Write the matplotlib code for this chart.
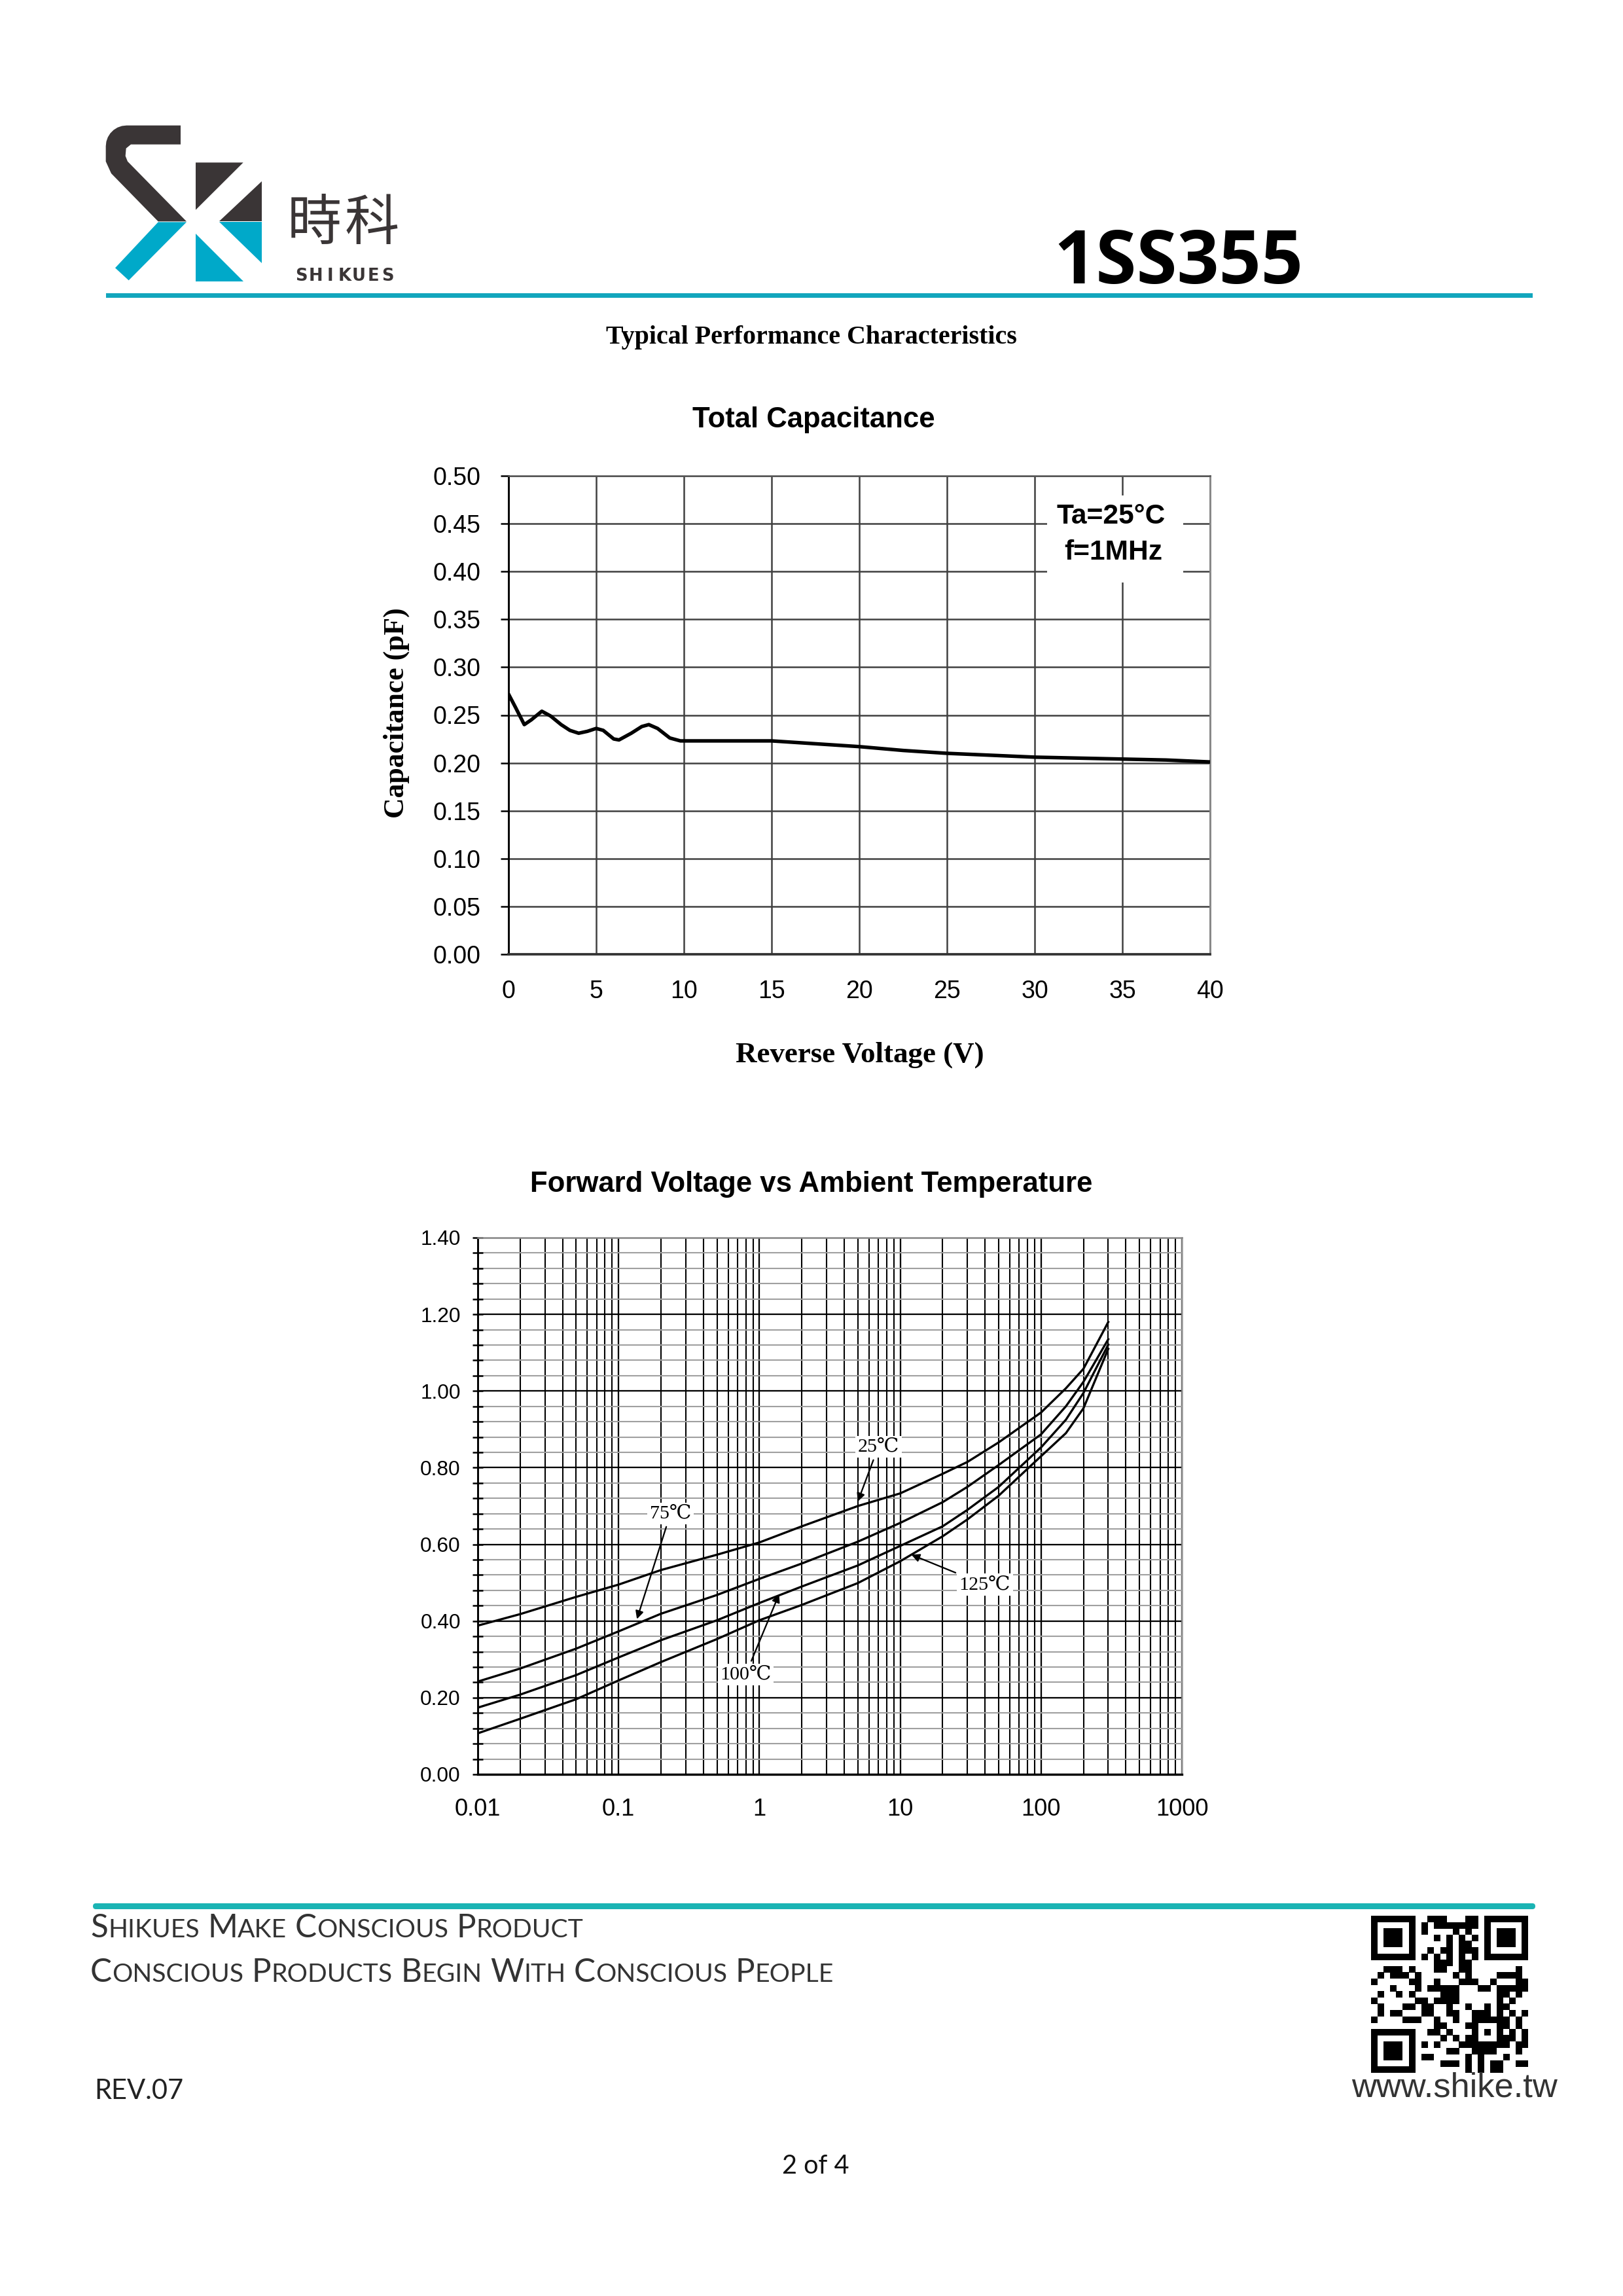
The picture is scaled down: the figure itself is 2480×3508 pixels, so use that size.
import numpy as np
import matplotlib
matplotlib.use("Agg")
import matplotlib.pyplot as plt
from matplotlib.patches import Polygon, Rectangle, FancyBboxPatch
from matplotlib.ticker import FixedLocator, FixedFormatter, LogLocator, NullFormatter

# ---------------- data ----------------
cap_v = [0, 0.4, 0.9, 1.3, 1.9, 2.4, 3.0, 3.5, 4.0, 4.5, 5.0, 5.4, 6.0, 6.3, 7.0, 7.6, 8.0,
         8.5, 9.2, 9.8, 12.5, 15, 17.5, 20, 22.5, 25, 27.5, 30, 32.5, 35, 37.5, 40]
cap_c = [0.272, 0.258, 0.240, 0.245, 0.254, 0.249, 0.240, 0.234, 0.231, 0.233, 0.236, 0.234,
         0.225, 0.224, 0.231, 0.238, 0.240, 0.236, 0.226, 0.223, 0.223, 0.223, 0.220, 0.217,
         0.213, 0.210, 0.208, 0.206, 0.205, 0.204, 0.203, 0.201]
cap_xticks = [0, 5, 10, 15, 20, 25, 30, 35, 40]
cap_yticks = [0.00, 0.05, 0.10, 0.15, 0.20, 0.25, 0.30, 0.35, 0.40, 0.45, 0.50]

vf_if = [0.01, 0.02, 0.05, 0.1, 0.2, 0.5, 1, 2, 5, 10, 20, 30, 50, 100, 150, 200, 300]
vf_25 = [0.388, 0.418, 0.463, 0.495, 0.533, 0.573, 0.605, 0.647, 0.700, 0.733, 0.784, 0.815,
         0.866, 0.944, 1.007, 1.058, 1.180]
vf_75 = [0.242, 0.276, 0.328, 0.373, 0.419, 0.468, 0.510, 0.550, 0.607, 0.656, 0.710, 0.750,
         0.807, 0.887, 0.960, 1.024, 1.135]
vf_100 = [0.174, 0.208, 0.259, 0.305, 0.350, 0.402, 0.447, 0.490, 0.545, 0.596, 0.647, 0.690,
          0.750, 0.853, 0.925, 0.995, 1.121]
vf_125 = [0.107, 0.145, 0.196, 0.245, 0.293, 0.353, 0.402, 0.442, 0.499, 0.556, 0.621, 0.665,
          0.727, 0.830, 0.890, 0.955, 1.110]
vf_xticks = [0.01, 0.1, 1, 10, 100, 1000]
vf_xlabels = ["0.01", "0.1", "1", "10", "100", "1000"]
vf_yticks = [0.00, 0.20, 0.40, 0.60, 0.80, 1.00, 1.20, 1.40]
vf_yminor = [0.04, 0.08, 0.12, 0.16, 0.24, 0.28, 0.32, 0.36, 0.44, 0.48, 0.52, 0.56,
             0.64, 0.68, 0.72, 0.76, 0.84, 0.88, 0.92, 0.96, 1.04, 1.08, 1.12, 1.16,
             1.24, 1.28, 1.32, 1.36]
vf_labels = ["25\u2103", "75\u2103", "100\u2103", "125\u2103"]
vf_label_xy = [(7.0, 0.855), (0.234, 0.681), (0.80, 0.261), (39.8, 0.495)]
vf_arrow_tip = [(5.0, 0.712), (0.135, 0.405), (1.38, 0.470), (12.0, 0.573)]

# ---------------- figure ----------------
W, H = 2480, 3508
DPI = 300
fig = plt.figure(figsize=(W / DPI, H / DPI), dpi=DPI)
fig.patch.set_facecolor("white")

bg = fig.add_axes([0, 0, 1, 1])
bg.set_xlim(0, W)
bg.set_ylim(H, 0)
bg.axis("off")
bg.set_zorder(0)

SANS = "Liberation Sans"
SERIF = "Liberation Serif"
DARK = "#3a3536"
TEAL = "#00a9c9"


def ax_rect(l, t, r, b):
    return [l / W, 1 - b / H, (r - l) / W, (b - t) / H]


# ---------------- header / logo ----------------
def cx(zx):
    return 150 + zx / 3.0


def cy(zy):
    return 180 + zy / 3.0


corner = [(130 + 95 * np.cos(a), 130 - 95 * np.sin(a)) for a in np.linspace(np.pi / 2, np.pi, 8)]
s_pts = [(378, 35), (378, 122), (150, 122), (128, 140), (125, 175), (135, 200), (405, 475),
         (275, 475), (60, 255), (35, 200)] + corner[::-1]
bg.add_patch(Polygon([(cx(a), cy(b)) for a, b in s_pts], closed=True, fc=DARK, ec="none"))
bg.add_patch(Polygon([(cx(a), cy(b)) for a, b in [(275, 478), (405, 478), (140, 745), (78, 688)]],
                     closed=True, fc=TEAL, ec="none"))
bg.add_patch(Polygon([(cx(a), cy(b)) for a, b in [(447, 205), (665, 205), (447, 422)]],
                     closed=True, fc=DARK, ec="none"))
bg.add_patch(Polygon([(cx(a), cy(b)) for a, b in [(750, 290), (750, 475), (555, 475)]],
                     closed=True, fc=DARK, ec="none"))
bg.add_patch(Polygon([(cx(a), cy(b)) for a, b in [(555, 478), (750, 478), (750, 665)]],
                     closed=True, fc=TEAL, ec="none"))
bg.add_patch(Polygon([(cx(a), cy(b)) for a, b in [(447, 530), (447, 750), (665, 750)]],
                     closed=True, fc=TEAL, ec="none"))

cjk = ["Noto Sans CJK TC", "Noto Sans CJK SC", "DejaVu Sans"]
bg.text(480, 342, "時", fontsize=20, family=cjk, weight="light", color=DARK, ha="center", va="center")
bg.text(568, 342, "科", fontsize=20, family=cjk, weight="light", color=DARK, ha="center", va="center")
for i, ch in enumerate("SHIKUES"):
    bg.text(450 + (i + 0.5) * 153 / 7.0, 429, ch, fontsize=6.2, family="DejaVu Sans",
            weight="bold", color=DARK, ha="center", va="baseline")

bg.text(1610, 433, "1SS355", fontsize=27, family=["Open Sans", SANS], weight="bold",
        color="black", ha="left", va="baseline")

bg.add_patch(Rectangle((162, 448), 2342 - 162, 7, fc="#12a6bd", ec="none"))

bg.text(1240, 525, "Typical Performance Characteristics", fontsize=9.6, family=SERIF,
        weight="bold", ha="center", va="baseline")

# ---------------- chart 1: Total Capacitance ----------------
bg.text(1243, 653, "Total Capacitance", fontsize=10.5, family=SANS, weight="bold",
        ha="center", va="baseline")

ax1 = fig.add_axes(ax_rect(777, 727, 1849, 1458))
ax1.set_zorder(1)
ax1.set_facecolor("none")
ax1.plot(cap_v, cap_c, color="black", lw=1.3, zorder=4, solid_joinstyle="round",
         solid_capstyle="round")
ax1.set_xlim(0, 40)
ax1.set_ylim(0, 0.5)
ax1.xaxis.set_major_locator(FixedLocator(cap_xticks))
ax1.yaxis.set_major_locator(FixedLocator(cap_yticks))
ax1.set_xticklabels([str(v) for v in cap_xticks])
ax1.set_yticklabels(["%.2f" % v for v in cap_yticks])
ax1.grid(True, color="#404040", lw=0.6)
ax1.set_axisbelow(True)
ax1.tick_params(axis="y", direction="out", length=2.9, width=0.6, pad=7.2, labelsize=9)
ax1.tick_params(axis="x", length=0, pad=9.4, labelsize=9)
for lab in ax1.get_xticklabels() + ax1.get_yticklabels():
    lab.set_family(SANS)
ax1.spines["left"].set_color("black")
ax1.spines["left"].set_linewidth(0.7)
ax1.spines["bottom"].set_color("#333333")
ax1.spines["bottom"].set_linewidth(0.9)
ax1.spines["top"].set_color("#555555")
ax1.spines["top"].set_linewidth(0.6)
ax1.spines["right"].set_color("#888888")
ax1.spines["right"].set_linewidth(0.7)

ax1.add_patch(Rectangle((30.7, 0.3885), 7.77, 0.091, fc="white", ec="none", zorder=2))
ax1.text(34.35, 0.4576, "Ta=25\u00b0C", fontsize=10.2, family=SANS, weight="bold",
         ha="center", va="center", zorder=5)
ax1.text(34.5, 0.420, "f=1MHz", fontsize=10.2, family=SANS, weight="bold",
         ha="center", va="center", zorder=5)

bg.text(606, 1089, "Capacitance (pF)", fontsize=10.5, family=SERIF, weight="bold",
        rotation=90, ha="center", va="center")
bg.text(1314, 1612, "Reverse Voltage (V)", fontsize=10.8, family=SERIF, weight="bold",
        ha="center", va="center")

# ---------------- chart 2: Forward Voltage ----------------
bg.text(1240, 1821, "Forward Voltage vs Ambient Temperature", fontsize=10.5, family=SANS,
        weight="bold", ha="center", va="baseline")

ax2 = fig.add_axes(ax_rect(730, 1891, 1806, 2711))
ax2.set_zorder(1)
ax2.set_facecolor("none")
for ys in (vf_25, vf_75, vf_100, vf_125):
    ax2.plot(vf_if, ys, color="black", lw=0.8, zorder=4, solid_joinstyle="round")
ax2.set_xscale("log")
ax2.set_xlim(0.01, 1000)
ax2.set_ylim(0, 1.4)
ax2.xaxis.set_major_locator(FixedLocator(vf_xticks))
ax2.xaxis.set_major_formatter(FixedFormatter(vf_xlabels))
ax2.xaxis.set_minor_locator(LogLocator(base=10, subs=np.arange(2, 10), numticks=20))
ax2.xaxis.set_minor_formatter(NullFormatter())
ax2.yaxis.set_major_locator(FixedLocator(vf_yticks))
ax2.yaxis.set_major_formatter(FixedFormatter(["%.2f" % v for v in vf_yticks]))
ax2.yaxis.set_minor_locator(FixedLocator(vf_yminor))
ax2.grid(which="major", axis="both", color="black", lw=0.55)
ax2.grid(which="minor", axis="x", color="black", lw=0.5)
ax2.grid(which="minor", axis="y", color="#a0a0a0", lw=0.5)
ax2.set_axisbelow(True)
ax2.tick_params(axis="y", which="both", direction="inout", length=3.8, width=0.6,
                pad=4.4, labelsize=7.6)
ax2.tick_params(axis="x", which="both", length=0, pad=8.6, labelsize=8.7)
for lab in ax2.get_xticklabels() + ax2.get_yticklabels():
    lab.set_family(SANS)
ax2.spines["left"].set_color("black")
ax2.spines["left"].set_linewidth(0.7)
ax2.spines["bottom"].set_color("black")
ax2.spines["bottom"].set_linewidth(0.8)
ax2.spines["top"].set_color("#888888")
ax2.spines["top"].set_linewidth(0.6)
ax2.spines["right"].set_color("#999999")
ax2.spines["right"].set_linewidth(0.6)

serif_cjk = [SERIF, "DejaVu Serif", "Noto Sans CJK SC"]
for lab, (lx, ly), (tx, ty) in zip(vf_labels, vf_label_xy, vf_arrow_tip):
    ax2.annotate(lab, xy=(tx, ty), xytext=(lx, ly), fontsize=7.2, family=serif_cjk,
                 ha="center", va="center", zorder=6,
                 bbox=dict(boxstyle="square,pad=0.12", fc="white", ec="none"),
                 arrowprops=dict(arrowstyle="-|>", color="black", lw=0.55, mutation_scale=6,
                                 shrinkA=1, shrinkB=0))

# ---------------- footer ----------------
bg.add_patch(FancyBboxPatch((142, 2908), 2346 - 142, 9, boxstyle="round,pad=0,rounding_size=4.5",
                            fc="#1bb4b4", ec="none"))

renderer = fig.canvas.get_renderer()


def smallcaps(x, y, s, big, small, **kw):
    cur = x
    space = None
    for word in s.split(" "):
        runs = []
        for ch in word:
            up = ch.isupper()
            if runs and runs[-1][0] == up:
                runs[-1][1] += ch
            else:
                runs.append([up, ch])
        for up, txt in runs:
            t = bg.text(cur, y, txt.upper(), fontsize=big if up else small, ha="left",
                        va="baseline", **kw)
            bb = t.get_window_extent(renderer)
            cur += bb.width
        if space is None:
            t = bg.text(0, 0, "A A", fontsize=big, **kw)
            w2 = t.get_window_extent(renderer).width
            t2 = bg.text(0, 0, "AA", fontsize=big, **kw)
            w1 = t2.get_window_extent(renderer).width
            space = w2 - w1
            t.remove()
            t2.remove()
        cur += space


FOOT = ["Lato", "Open Sans", SANS]
smallcaps(138, 2960, "Shikues Make Conscious Product", 11.9, 9.4, family=FOOT, color="#333333")
smallcaps(138, 3028, "Conscious Products Begin With Conscious People", 11.9, 9.4, family=FOOT,
          color="#333333")

bg.text(144, 3207, "REV.07", fontsize=10, family=FOOT, color="#222222", ha="left", va="baseline")
bg.text(1246, 3321, "2 of 4", fontsize=9.5, family=FOOT, color="#111111", ha="center",
        va="baseline")

# QR code style block (decorative)
N = 25
qr = np.zeros((N, N), dtype=bool)
for r in range(N):
    for c in range(N):
        qr[r, c] = (((r * 31 + c * 17) ^ (r * c * 5 + 3)) % 7) < 3


def finder(r0, c0):
    qr[max(r0 - 1, 0):r0 + 8, max(c0 - 1, 0):c0 + 8] = False
    qr[r0:r0 + 7, c0:c0 + 7] = True
    qr[r0 + 1:r0 + 6, c0 + 1:c0 + 6] = False
    qr[r0 + 2:r0 + 5, c0 + 2:c0 + 5] = True


finder(0, 0)
finder(0, 18)
finder(18, 0)
for i in range(8, 17):
    qr[6, i] = (i % 2 == 0)
    qr[i, 6] = (i % 2 == 0)
qr[16:21, 16:21] = True
qr[17:20, 17:20] = False
qr[18, 18] = True
x0, y0, m = 2095, 2927, 240 / N
for r in range(N):
    for c in range(N):
        if qr[r, c]:
            bg.add_patch(Rectangle((x0 + c * m, y0 + r * m), m + 0.3, m + 0.3, fc="black",
                                   ec="none"))

bg.text(2222, 3204, "www.shike.tw", fontsize=12.6, family=SANS, color="#333333", ha="center",
        va="baseline")

fig.savefig("out.png", dpi=DPI, facecolor="white")
